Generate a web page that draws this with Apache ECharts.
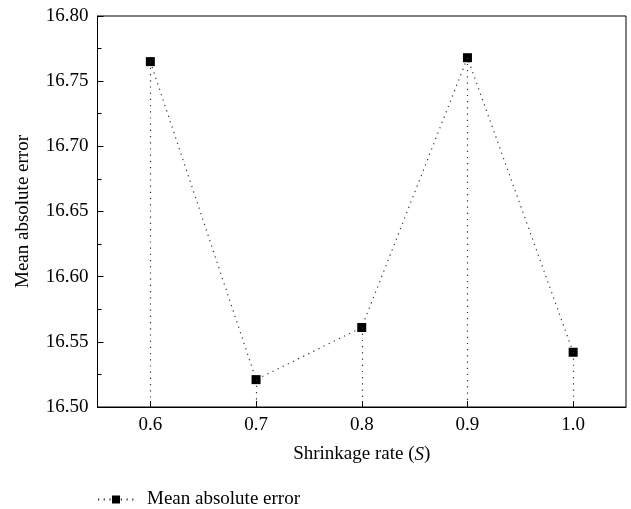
<!DOCTYPE html>
<html>
<head>
<meta charset="utf-8">
<script src="https://cdn.jsdelivr.net/npm/echarts@6/dist/echarts.min.js"></script>
<style>
    html, body { margin: 0; padding: 0; background: #fff; }
    #chart { width: 631px; height: 509px; }
</style>
</head>
<body>
<div id="chart"></div>
<script>
const shrinkRates = [0.6, 0.7, 0.8, 0.9, 1.0]
const maeValues = [16.765, 16.521, 16.561, 16.768, 16.542]
const xTickValues = [0.6, 0.7, 0.8, 0.9, 1.0]
const seriesName = "Mean absolute error"

const font = "Liberation Serif"
const fs = 19
const yMin = 16.5

let chart = echarts.init(document.getElementById("chart"))

const points = shrinkRates.map((x, i) => [x, maeValues[i]])
// vertical drop lines from each point to the x axis
const dropLines = points.map((p) => [{ coord: p }, { coord: [p[0], yMin] }])

let option = {
    animation: false,
    backgroundColor: "#fff",
    textStyle: { fontFamily: font, color: "#000" },
    grid: {
        left: 97.5,
        right: 5,
        top: 16,
        bottom: 102,
        show: true,
        borderColor: "#000",
        borderWidth: 1,
    },
    legend: {
        left: 92,
        top: 485,
        itemWidth: 36,
        itemHeight: 10,
        data: [seriesName],
        textStyle: { fontFamily: font, fontSize: fs, color: "#000", padding: [0, 0, 0, 8] },
    },
    xAxis: {
        type: "value",
        min: 0.55,
        max: 1.05,
        name: "Shrinkage rate ({i|S})",
        nameLocation: "middle",
        nameGap: 38,
        nameTextStyle: {
            fontFamily: font,
            fontSize: fs,
            color: "#000",
            rich: { i: { fontFamily: font, fontStyle: "italic", fontSize: fs, color: "#000" } },
        },
        splitLine: { show: false },
        axisLine: { lineStyle: { color: "#000", width: 1 } },
        axisTick: {
            inside: true,
            length: 6,
            customValues: xTickValues,
            lineStyle: { color: "#000" },
        },
        axisLabel: {
            customValues: xTickValues,
            fontFamily: font,
            fontSize: fs,
            color: "#000",
            margin: 9,
            formatter: (v) => v.toFixed(1),
        },
    },
    yAxis: {
        type: "value",
        min: 16.5,
        max: 16.8,
        interval: 0.05,
        name: "Mean absolute error",
        nameLocation: "middle",
        nameGap: 65,
        nameTextStyle: { fontFamily: font, fontSize: fs, color: "#000" },
        splitLine: { show: false },
        axisLine: { lineStyle: { color: "#000", width: 1 } },
        axisTick: { inside: true, length: 6, lineStyle: { color: "#000" } },
        minorTick: { show: true, splitNumber: 2, length: 4, lineStyle: { color: "#000" } },
        axisLabel: {
            fontFamily: font,
            fontSize: fs,
            color: "#000",
            margin: 9,
            formatter: (v) => v.toFixed(2),
        },
    },
    series: [
        {
            name: seriesName,
            type: "line",
            data: points,
            symbol: "rect",
            symbolSize: 9,
            itemStyle: { color: "#000" },
            lineStyle: { color: "#333", width: 1.2, type: [1.2, 4.5] },
            markLine: {
                silent: true,
                symbol: ["none", "none"],
                label: { show: false },
                lineStyle: { color: "#333", width: 1.2, type: [1.2, 5] },
                data: dropLines,
            },
            z: 3,
        },
    ],
}

option && chart.setOption(option)
</script>
</body>
</html>
